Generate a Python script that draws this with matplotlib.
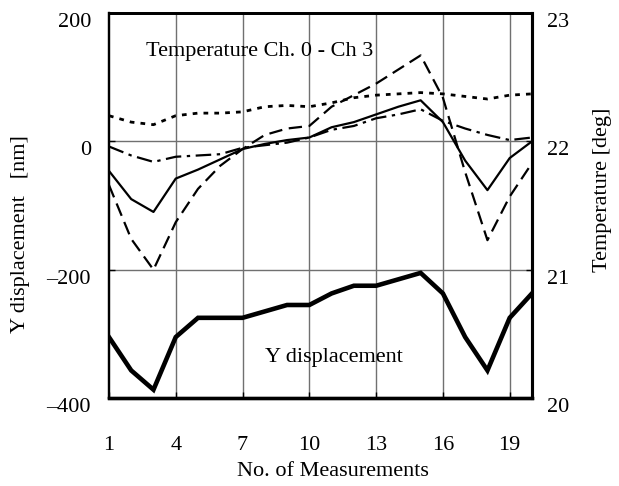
import matplotlib

matplotlib.use("Agg")

import matplotlib.pyplot as plt
import numpy as np

plt.rcParams["font.family"] = ["Liberation Serif", "DejaVu Serif"]

# Measurement number
measurements = np.arange(1, 21)

# Y displacement [nm] (left axis)
y_displacement = [
    -305, -357, -387, -305, -275, -275, -275, -265, -255, -255,
    -237, -225, -225, -215, -205, -237, -305, -357, -275, -237,
]

# Temperature channels [deg] (right axis)
temp_ch0 = [
    21.77, 21.55, 21.45, 21.71, 21.78, 21.86, 21.94, 21.98, 22.01, 22.03,
    22.11, 22.15, 22.21, 22.27, 22.32, 22.15, 21.85, 21.62, 21.87, 22.00,
]
temp_ch1 = [
    21.66, 21.24, 21.00, 21.37, 21.63, 21.81, 21.94, 22.05, 22.10, 22.12,
    22.27, 22.36, 22.45, 22.56, 22.67, 22.34, 21.76, 21.23, 21.57, 21.83,
]
temp_ch2 = [
    22.20, 22.15, 22.13, 22.20, 22.22, 22.22, 22.23, 22.27, 22.28, 22.27,
    22.30, 22.34, 22.36, 22.37, 22.38, 22.37, 22.35, 22.33, 22.36, 22.37,
]
temp_ch3 = [
    21.96, 21.89, 21.84, 21.88, 21.89, 21.90, 21.95, 21.97, 21.99, 22.03,
    22.09, 22.12, 22.18, 22.21, 22.25, 22.16, 22.10, 22.05, 22.01, 22.03,
]

x_ticks = [1, 4, 7, 10, 13, 16, 19]
y_ticks = [-400, -200, 0, 200]
y_tick_labels = ["\u2013400", "\u2013200", "0", "200"]
t_ticks = [20, 21, 22, 23]

fig = plt.figure(figsize=(6.19, 4.86), dpi=100)
ax = fig.add_axes([0.176, 0.181, 0.6834, 0.7922])
ax2 = ax.twinx()

# Grid
for xv in x_ticks[1:]:
    ax.axvline(xv, color="#707070", lw=1.0, zorder=1)
for yv in [-200, 0]:
    ax.axhline(yv, color="#707070", lw=1.0, zorder=1)

# Temperature lines
ax2.plot(measurements, temp_ch0, color="black", lw=1.6, linestyle="-")
ax2.plot(measurements, temp_ch1, color="black", lw=1.6,
         linestyle=(0, (6, 3)))
ax2.plot(measurements, temp_ch2, color="black", lw=2.0,
         linestyle=(0, (1.7, 2.2)))
ax2.plot(measurements, temp_ch3, color="black", lw=1.6,
         linestyle=(0, (7, 2.5, 1.5, 2.5)))

# Y displacement
ax.plot(measurements, y_displacement, color="black", lw=3.3,
        solid_joinstyle="miter", zorder=3)

ax.set_xlim(1, 20)
ax.set_ylim(-400, 200)
ax2.set_ylim(20, 23)

ax.set_xticks(x_ticks)
ax.set_yticks(y_ticks)
ax.set_yticklabels(y_tick_labels)
ax2.set_yticks(t_ticks)

ax.tick_params(axis="x", direction="in", length=4, width=1,
               labelsize=16, pad=27)
ax.tick_params(axis="y", direction="in", length=4, width=1,
               labelsize=16, pad=13)
ax2.tick_params(axis="y", direction="in", length=4, width=1,
                labelsize=16, pad=11)

plt.setp(ax.get_yticklabels(), va="top")
plt.setp(ax2.get_yticklabels(), va="top")

for axis in (ax, ax2):
    axis.spines["left"].set_linewidth(1.6)
    axis.spines["top"].set_linewidth(2.0)
    axis.spines["right"].set_linewidth(2.2)
    axis.spines["bottom"].set_linewidth(2.4)

# Annotations
ax.text(0.0875, 0.899, "Temperature Ch. 0 - Ch 3",
        transform=ax.transAxes, fontsize=16, va="center", ha="left")
ax.text(0.369, 0.104, "Y displacement",
        transform=ax.transAxes, fontsize=16, va="center", ha="left",
        zorder=4)

# Axis labels
fig.text(21 / 619, 1 - 234 / 486, "Y displacement   [nm]",
         rotation=90, fontsize=16, ha="center", va="center")
fig.text(602 / 619, 1 - 190 / 486, "Temperature [deg]",
         rotation=90, fontsize=16, ha="center", va="center")
fig.text(333 / 619, 1 - 471 / 486, "No. of Measurements",
         fontsize=16, ha="center", va="center")

fig.savefig("out.png", dpi=100)
